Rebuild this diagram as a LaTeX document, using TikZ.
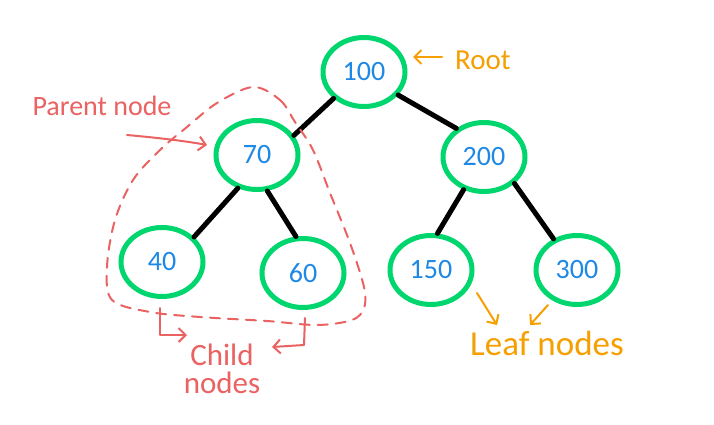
\documentclass[tikz,border=0pt]{standalone}
\usepackage{fontspec}
\setmainfont{Carlito}
\usetikzlibrary{shapes.geometric,arrows.meta}
\definecolor{tgreen}{RGB}{0,214,110}
\definecolor{tblue}{RGB}{30,136,229}
\definecolor{tred}{RGB}{234,98,98}
\definecolor{torange}{RGB}{245,160,0}
\begin{document}
\begin{tikzpicture}[x=1pt,y=-1pt,
  tnode/.style={ellipse, draw=tgreen, line width=5pt, minimum width=82pt, minimum height=69pt,
    inner sep=0pt, text=tblue, font=\fontsize{28}{28}\selectfont},
  tedge/.style={line width=5pt, line cap=round, black},
  redlabel/.style={text=tred, font=\fontsize{28}{28}\selectfont, inner sep=0pt},
  orlabel/.style={text=torange, font=\fontsize{29}{29}\selectfont, inner sep=0pt},
  redarrow/.style={draw=tred, line width=2pt, line cap=round, line join=round,
    -{Straight Barb[length=7pt,width=14pt,line width=2pt]}},
  orarrow/.style={draw=torange, line width=2pt, line cap=round, line join=round,
    -{Straight Barb[length=7pt,width=14pt,line width=2pt]}},
  dashline/.style={draw=tred, line width=2pt, dash pattern=on 10pt off 8pt, line cap=round}
]
\fill[white] (0,0) rectangle (714,425);
\useasboundingbox (0,0) rectangle (714,425);

% tree nodes
\node[tnode] (n100) at (364,72) {100};
\node[tnode] (n70)  at (257,155) {70};
\node[tnode] (n200) at (484,157) {200};
\node[tnode] (n40)  at (162,262) {40};
\node[tnode] (n60)  at (303,273) {60};
\node[tnode] (n150) at (431,270) {150};
\node[tnode] (n300) at (577,270) {300};

% edges
\draw[tedge] (n100.221) -- (n70.28);
\draw[tedge] (n100.326) -- (n200.134);
\draw[tedge] (n70.240) -- (n40.38);
\draw[tedge] (n70.286) -- (n60.101);
\draw[tedge] (n200.238) -- (n150.80);
\draw[tedge] (n200.319) -- (n300.127);

% dashed group around parent and children
\draw[dashline] plot[smooth cycle, tension=0.55] coordinates {
  (253,87) (280,100) (295,122) (313,150) (330,193) (350,243) (364,287) (364,308)
  (352,320) (317,325) (267,321) (200,317) (150,312) (112,300) (107,267)
  (115,220) (133,180) (160,150) (187,127) (217,103)};

% labels
\node[orlabel, anchor=west] (root) at (455,60) {Root};
\coordinate (rootA) at (442,57);
\coordinate (rootB) at (413,57);
\draw[orarrow] (rootA) -- (rootB);

\node[redlabel] (parent) at (102,106) {Parent node};
\coordinate (parA) at (127,135);
\coordinate (parB) at (207,145);
\draw[redarrow] (parA) .. controls (160,138) and (185,141) .. (parB);

\node[redlabel, align=center, font=\fontsize{31}{31}\selectfont] (child) at (222,369) {Child\\[-3pt]nodes};
\coordinate (chLa) at (160,308);
\coordinate (chLb) at (160,335);
\coordinate (chLc) at (187,335);
\draw[redarrow] (chLa) -- (chLb) -- (chLc);
\coordinate (chRa) at (305,318);
\coordinate (chRb) at (304,345);
\coordinate (chRc) at (272,347);
\draw[redarrow] (chRa) -- (chRb) -- (chRc);

\node[orlabel, font=\fontsize{35}{35}\selectfont] (leaf) at (547,343) {Leaf nodes};
\coordinate (lfA) at (477,293);
\coordinate (lfB) at (497,325);
\draw[orarrow] (lfA) -- (lfB);
\coordinate (lfC) at (548,305);
\coordinate (lfD) at (530,325);
\draw[orarrow] (lfC) -- (lfD);
\end{tikzpicture}
\end{document}
